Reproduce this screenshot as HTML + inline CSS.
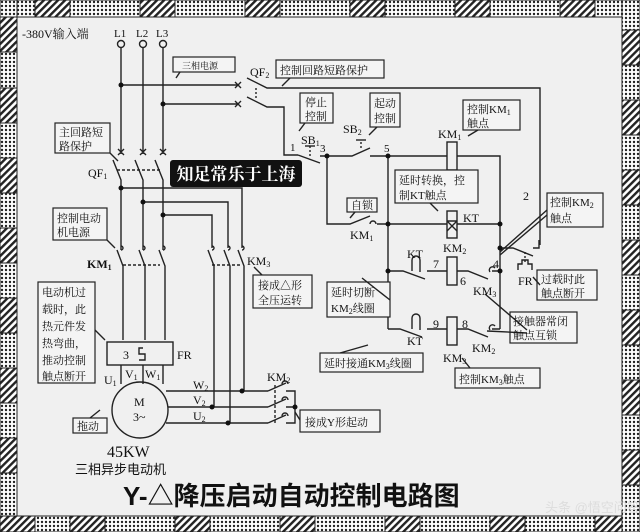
<!DOCTYPE html>
<html><head><meta charset="utf-8"><style>
html,body{margin:0;padding:0;background:#eee;}
svg{display:block}
text{font-family:"Liberation Serif","Noto Serif CJK SC",serif;fill:#111}
.s{font-family:"Liberation Sans","Noto Sans CJK SC",sans-serif}
.b{font-size:11px}
</style></head><body>
<svg width="640" height="532" viewBox="0 0 640 532" xmlns="http://www.w3.org/2000/svg">
<defs>
<pattern id="dot" width="4" height="4" patternUnits="userSpaceOnUse"><rect width="4" height="4" fill="#fff"/><circle cx="2" cy="2" r="1.2" fill="#222"/></pattern>
<pattern id="hat" width="5" height="5" patternUnits="userSpaceOnUse" patternTransform="rotate(45)"><rect width="5" height="5" fill="#fff"/><rect width="2.4" height="5" fill="#222"/></pattern>
</defs>
<rect width="640" height="532" fill="#f0f0f0"/>
<g stroke="#222" stroke-width="1">
<rect x="0" y="0" width="640" height="17" fill="url(#dot)"/>
<rect x="0" y="516" width="640" height="16" fill="url(#dot)"/>
<rect x="0" y="0" width="17" height="532" fill="url(#dot)"/>
<rect x="622" y="0" width="18" height="532" fill="url(#dot)"/>
</g>
<g fill="url(#hat)" stroke="#222" stroke-width="1">
<rect x="35" y="0" width="35" height="17"/><rect x="140" y="0" width="35" height="17"/><rect x="245" y="0" width="35" height="17"/><rect x="350" y="0" width="35" height="17"/><rect x="455" y="0" width="35" height="17"/><rect x="560" y="0" width="35" height="17"/>
<rect x="0" y="516" width="35" height="16"/><rect x="70" y="516" width="35" height="16"/><rect x="175" y="516" width="35" height="16"/><rect x="280" y="516" width="35" height="16"/><rect x="385" y="516" width="35" height="16"/><rect x="490" y="516" width="35" height="16"/><rect x="595" y="516" width="27" height="16"/>
<rect x="0" y="17" width="17" height="35"/><rect x="0" y="88" width="17" height="35"/><rect x="0" y="158" width="17" height="35"/><rect x="0" y="228" width="17" height="35"/><rect x="0" y="298" width="17" height="35"/><rect x="0" y="368" width="17" height="35"/><rect x="0" y="438" width="17" height="35"/>
<rect x="622" y="30" width="18" height="35"/><rect x="622" y="100" width="18" height="35"/><rect x="622" y="170" width="18" height="35"/><rect x="622" y="240" width="18" height="35"/><rect x="622" y="310" width="18" height="35"/><rect x="622" y="380" width="18" height="35"/><rect x="622" y="450" width="18" height="35"/>
</g>

<g stroke="#222" stroke-width="1.4" fill="none">
<circle cx="121" cy="44" r="3.5"/><circle cx="143" cy="44" r="3.5"/><circle cx="163" cy="44" r="3.5"/>
<path d="M121 48V154M143 48V154M163 48V154"/>
<path d="M121 85H238M163 104H238"/>
<path d="M235 82l6 6M241 82l-6 6M235 101l6 6M241 101l-6 6"/>
<path d="M118 149l6 6M124 149l-6 6M140 149l6 6M146 149l-6 6M160 149l6 6M166 149l-6 6"/>
<path d="M247 78l20 10H540V245M247 97l20 10H284V155H298"/>
<path d="M256 88V100" stroke-dasharray="2 2"/>
<path d="M113 160l8 20V188M135 160l8 20V202M155 160l8 20V215"/>
<path d="M117 170H160" stroke-dasharray="3 2"/>
<path d="M121 188H242V248M143 202H228V248M163 215H212V248"/>
<path d="M121 188V250M143 202V250M163 215V250"/>
<path d="M117 250l6 16V340M139 250l6 16V340M159 250l6 16V340"/>
<path d="M121 250a2 2 0 0 0 0-4M143 250a2 2 0 0 0 0-4M163 250a2 2 0 0 0 0-4"/>
<path d="M123 265H160" stroke-dasharray="3 2"/>
<path d="M208 250l6 16V407M224 250l6 16V423M238 250l6 16V391"/>
<path d="M212 250a2 2 0 0 0 0-4M228 250a2 2 0 0 0 0-4M242 250a2 2 0 0 0 0-4"/>
<path d="M212 265H242" stroke-dasharray="3 2"/>
<rect x="107" y="342" width="66" height="23"/>
<path d="M143 348h-4v6h6v6h-6"/>
<path d="M121 365V384M143 365V384M163 365V384"/>
<circle cx="140" cy="410" r="28"/>
<path d="M166 391H268M168 407H268M166 423H268"/>
<path d="M268 391l18-8M268 407l18-8M268 423l18-8"/>
<path d="M286 391H295V423H286M286 407H295"/>
<path d="M282 384a3 3 0 0 1 6 0M282 400a3 3 0 0 1 6 0M282 416a3 3 0 0 1 6 0"/>
<path d="M275 385V424" stroke-dasharray="3 2"/>
<path d="M298 155l22 8" />
<path d="M310 146v10" stroke-dasharray="2 2"/><path d="M305 146h10"/>
<path d="M320 156H352l18-8M370 156H447M457 156H500V329"/>
<path d="M361 148v-8" stroke-dasharray="2 2"/><path d="M356 140h10"/>
<rect x="447" y="142" width="10" height="28"/>
<path d="M327 156V224H350l20-8M377 224H447M457 224H500"/>
<path d="M370 224a3 3 0 0 1 6 0"/>
<rect x="447" y="211" width="10" height="27"/><path d="M447 221l10 10M457 221l-10 10M447 221h10"/>
<path d="M388 156V329"/>
<path d="M388 271H403l22 8M427 271H447M457 271H468l20 8M492 271H500"/>
<path d="M412 271V260a4 4 0 0 1 8 0V272" />
<path d="M490 272a3 3 0 0 1 5-4"/>
<rect x="447" y="257" width="10" height="28"/>
<path d="M388 329H400l22 8M427 329H447M457 329H468l20 8M492 329H500"/>
<path d="M412 329V318a4 4 0 0 1 8 0V330"/>
<path d="M490 330a3 3 0 0 1 5-4"/>
<rect x="447" y="317" width="10" height="28"/>
<path d="M500 248H513l20 8M533 248H539V240"/>
<path d="M525 252v10" stroke-dasharray="2 2"/><path d="M518 270v-6h4v-4h6v4h4v6"/>
<g stroke-width="1.2" fill="#f4f4f4">
<rect x="173" y="57" width="62" height="15"/>
<rect x="276" y="60" width="108" height="18"/>
<rect x="300" y="93" width="33" height="30"/>
<rect x="370" y="93" width="30" height="34"/>
<rect x="463" y="100" width="57" height="30"/>
<rect x="395" y="170" width="83" height="33"/>
<rect x="347" y="198" width="30" height="14"/>
<rect x="547" y="193" width="56" height="34"/>
<rect x="537" y="270" width="60" height="30"/>
<rect x="327" y="282" width="63" height="35"/>
<rect x="510" y="312" width="67" height="31"/>
<rect x="320" y="353" width="103" height="19"/>
<rect x="455" y="368" width="85" height="20"/>
<rect x="55" y="123" width="55" height="30"/>
<rect x="53" y="208" width="54" height="32"/>
<rect x="38" y="282" width="57" height="101"/>
<rect x="253" y="275" width="59" height="33"/>
<rect x="300" y="410" width="80" height="22"/>
<rect x="73" y="418" width="34" height="15"/>
</g>
<path d="M180 72l-4 6M290 78l-8 8M305 123l-6 8M377 127l-8 8M478 130l-10 6M430 203l8 8M355 212l-5 6M547 210l-47 42M547 215l-47 40M540 285l-7-8M390 300l-28 -22M527 330l-42 -36M527 333l-40 -2M340 353l28-8M470 368l-8-10M110 153l8 8M107 240l8 8M95 330l10 10M262 275l-8-8M300 420l-5-8M90 418l10-8"/>
</g>
<g fill="#111">
<circle cx="121" cy="85" r="2.5"/><circle cx="163" cy="104" r="2.5"/>
<circle cx="121" cy="188" r="2.5"/><circle cx="143" cy="202" r="2.5"/><circle cx="163" cy="215" r="2.5"/>
<circle cx="242" cy="391" r="2.5"/><circle cx="212" cy="407" r="2.5"/><circle cx="228" cy="423" r="2.5"/><circle cx="295" cy="407" r="2.5"/>
<circle cx="327" cy="156" r="2.5"/><circle cx="388" cy="156" r="2.5"/><circle cx="388" cy="224" r="2.5"/><circle cx="500" cy="224" r="2.5"/><circle cx="388" cy="271" r="2.5"/><circle cx="500" cy="271" r="2.5"/><circle cx="500" cy="248" r="2.5"/>
</g>
<rect x="170" y="160" width="132" height="27" rx="3" fill="#111"/>
<text x="236" y="180" font-size="17" font-weight="bold" text-anchor="middle" style="fill:#fff">知足常乐于上海</text>

<g font-size="12">
<text x="22" y="38">-380V输入端</text>
<text x="114" y="37" font-size="11">L1</text><text x="136" y="37" font-size="11">L2</text><text x="156" y="37" font-size="11">L3</text>
<text x="182" y="69" font-size="9">三相电源</text>
<text x="250" y="76">QF<tspan font-size="8" dy="2">2</tspan></text>
<text x="280" y="74" class="b">控制回路短路保护</text>
<text x="305" y="106" class="b">停止</text><text x="305" y="120" class="b">控制</text>
<text x="374" y="107" class="b">起动</text><text x="374" y="122" class="b">控制</text>
<text x="467" y="113" class="b">控制KM<tspan font-size="8" dy="2">1</tspan></text><text x="467" y="127" class="b">触点</text>
<text x="301" y="144">SB<tspan font-size="8" dy="2">1</tspan></text>
<text x="343" y="133">SB<tspan font-size="8" dy="2">2</tspan></text>
<text x="290" y="151" font-size="11">1</text><text x="320" y="152" font-size="11">3</text><text x="384" y="152" font-size="11">5</text>
<text x="438" y="138">KM<tspan font-size="8" dy="2">1</tspan></text>
<text x="399" y="184" class="b">延时转换，控</text><text x="399" y="199" class="b">制KT触点</text>
<text x="351" y="209" class="b">自锁</text>
<text x="350" y="239">KM<tspan font-size="8" dy="2">1</tspan></text>
<text x="463" y="222">KT</text>
<text x="443" y="252">KM<tspan font-size="8" dy="2">2</tspan></text>
<text x="523" y="200">2</text>
<text x="550" y="206" class="b">控制KM<tspan font-size="8" dy="2">2</tspan></text><text x="550" y="222" class="b">触点</text>
<text x="407" y="258">KT</text>
<text x="433" y="268">7</text><text x="460" y="285">6</text><text x="493" y="268">4</text>
<text x="473" y="295">KM<tspan font-size="8" dy="2">3</tspan></text>
<text x="518" y="285">FR</text>
<text x="541" y="283" class="b">过载时此</text><text x="541" y="297" class="b">触点断开</text>
<text x="331" y="296" class="b">延时切断</text><text x="331" y="312" class="b">KM<tspan font-size="8" dy="2">2</tspan><tspan dy="-2">线圈</tspan></text>
<text x="513" y="325" class="b">接触器常闭</text><text x="513" y="339" class="b">触点互锁</text>
<text x="433" y="328">9</text><text x="462" y="328">8</text>
<text x="407" y="345">KT</text>
<text x="472" y="352">KM<tspan font-size="8" dy="2">2</tspan></text>
<text x="443" y="362">KM<tspan font-size="8" dy="2">3</tspan></text>
<text x="324" y="367" class="b">延时接通KM<tspan font-size="8" dy="2">3</tspan><tspan dy="-2">线圈</tspan></text>
<text x="459" y="383" class="b">控制KM<tspan font-size="8" dy="2">3</tspan><tspan dy="-2">触点</tspan></text>
<text x="59" y="136" class="b">主回路短</text><text x="59" y="150" class="b">路保护</text>
<text x="88" y="177">QF<tspan font-size="8" dy="2">1</tspan></text>
<text x="57" y="222" class="b">控制电动</text><text x="57" y="236" class="b">机电源</text>
<text x="87" y="268" font-weight="bold">KM<tspan font-size="8" dy="2">1</tspan></text>
<text x="247" y="265">KM<tspan font-size="8" dy="2">3</tspan></text>
<text x="258" y="289" class="b">接成△形</text><text x="258" y="304" class="b">全压运转</text>
<text x="42" y="296" class="b">电动机过</text><text x="42" y="313" class="b">载时，此</text><text x="42" y="330" class="b">热元件发</text><text x="42" y="347" class="b">热弯曲，</text><text x="42" y="364" class="b">推动控制</text><text x="42" y="380" class="b">触点断开</text>
<text x="123" y="359">3</text><text x="177" y="359">FR</text>
<text x="104" y="384">U<tspan font-size="8" dy="2">1</tspan></text>
<text x="125" y="378">V<tspan font-size="8" dy="2">1</tspan></text>
<text x="145" y="378">W<tspan font-size="8" dy="2">1</tspan></text>
<text x="134" y="406">M</text><text x="133" y="421">3~</text>
<text x="193" y="389">W<tspan font-size="8" dy="2">2</tspan></text>
<text x="193" y="404">V<tspan font-size="8" dy="2">2</tspan></text>
<text x="193" y="420">U<tspan font-size="8" dy="2">2</tspan></text>
<text x="267" y="381">KM<tspan font-size="8" dy="2">2</tspan></text>
<text x="305" y="426" class="b">接成Y形起动</text>
<text x="77" y="430" class="b">拖动</text>
<text x="107" y="457" font-size="16">45KW</text>
<text x="75" y="474" class="s" font-size="13">三相异步电动机</text>
<text x="123" y="505" font-size="26" font-weight="bold" class="s">Y-△降压启动自动控制电路图</text>
<text x="545" y="512" font-size="13" class="s" style="fill:#ddd">头条 @悟空问答</text>
</g>
</svg>
</body></html>
